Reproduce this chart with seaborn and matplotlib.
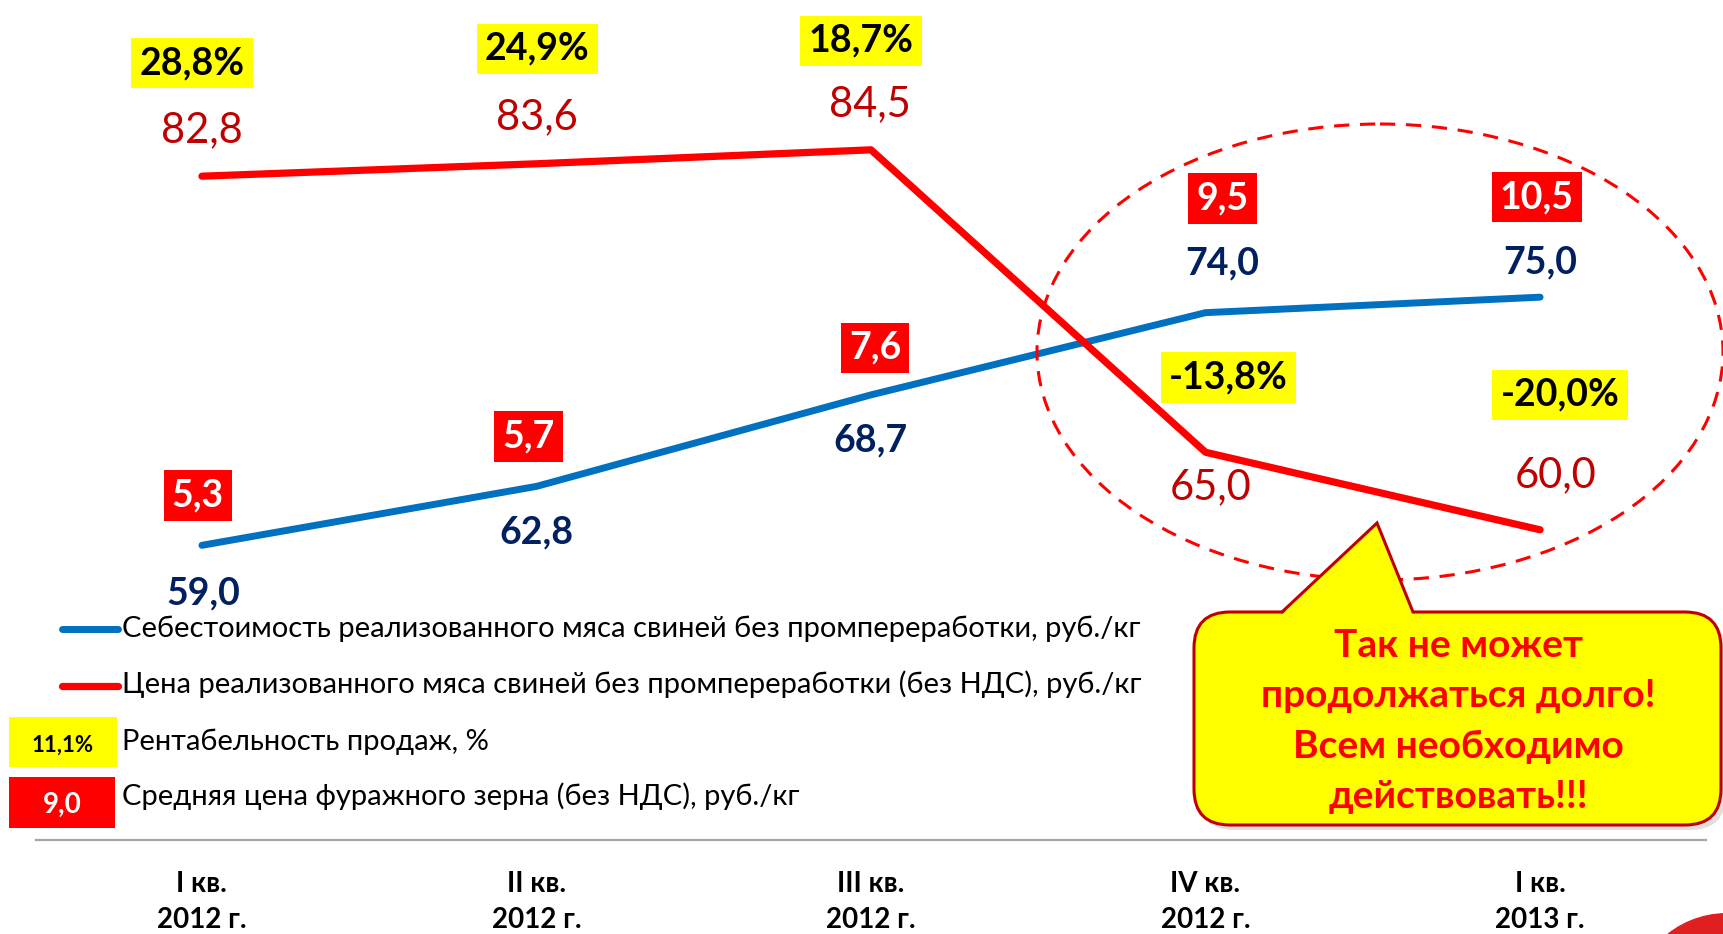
import numpy as np
import pandas as pd
import matplotlib
matplotlib.use("Agg")
import matplotlib.pyplot as plt
import seaborn as sns
from matplotlib import font_manager as fm
from matplotlib.ft2font import FT2Font
from matplotlib.patches import Ellipse, FancyBboxPatch, Rectangle, Polygon, Circle

# ---------------- data ----------------
quarters = ["I кв.\n2012 г.", "II кв.\n2012 г.", "III кв.\n2012 г.", "IV кв.\n2012 г.", "I кв.\n2013 г."]
cost = [59.0, 62.8, 68.7, 74.0, 75.0]          # себестоимость, руб./кг
price = [82.8, 83.6, 84.5, 65.0, 60.0]         # цена, руб./кг
margin = ["28,8%", "24,9%", "18,7%", "-13,8%", "-20,0%"]   # рентабельность продаж
grain = [5.3, 5.7, 7.6, 9.5, 10.5]             # цена фуражного зерна, руб./кг

legend_labels = [
    "Себестоимость реализованного мяса свиней без промпереработки, руб./кг",
    "Цена реализованного мяса свиней без промпереработки (без НДС), руб./кг",
    "Рентабельность продаж, %",
    "Средняя цена фуражного зерна (без НДС), руб./кг",
]
legend_samples = ["11,1%", "9,0"]
callout_lines = ["Так не может", "продолжаться долго!", "Всем необходимо", "действовать!!!"]

def fmt(v):
    return f"{v:.1f}".replace(".", ",")

# ---------------- fonts ----------------
def has_cyr(name):
    try:
        path = fm.findfont(fm.FontProperties(family=name), fallback_to_default=False)
        return FT2Font(path).get_char_index(ord("Б")) != 0
    except Exception:
        return False

FONT = next((n for n in ["Lato", "Open Sans", "Noto Sans"] if has_cyr(n)), "DejaVu Sans")

sns.set_theme(style="white")
plt.rcParams["font.family"] = [FONT, "DejaVu Sans"]

BLUE = "#0070C0"
RED = "#FF0000"
DARKRED = "#C00000"
NAVY = "#002060"
YELLOW = "#FFFF00"

W, H = 1723, 934
fig = plt.figure(figsize=(W / 100, H / 100), dpi=100)
fig.patch.set_facecolor("white")
ax = fig.add_axes([36 / W, (H - 840) / H, 1670 / W, 840 / H])
ax.set_facecolor("white")

df = pd.DataFrame({"x": np.arange(len(quarters)), "cost": cost, "price": price})
sns.lineplot(data=df, x="x", y="cost", ax=ax, color=BLUE, linewidth=5,
             solid_capstyle="round", solid_joinstyle="round")
sns.lineplot(data=df, x="x", y="price", ax=ax, color=RED, linewidth=5.2,
             solid_capstyle="round", solid_joinstyle="round")

ax.set_xlim(-0.496, 4.496)
ax.set_ylim(40, 94.16)
ax.set_xlabel("")
ax.set_ylabel("")
ax.set_yticks([])
ax.set_xticks(range(len(quarters)))
ax.set_xticklabels(quarters, fontsize=20, fontweight="bold", color="black", linespacing=1.5)
ax.tick_params(axis="x", length=0, pad=22)
for s in ["top", "left", "right"]:
    ax.spines[s].set_visible(False)
ax.spines["bottom"].set_color("#A6A6A6")
ax.spines["bottom"].set_linewidth(1.6)

# label offsets in pixels (dx, dy up)
off_cost = [(1, -48), (0, -46), (-1, -46), (17, 49), (0, 35)]
off_price = [(0, 46), (0, 47), (-1, 46), (5, -35), (16, 55)]
off_margin = [(-10, 113), (1, 115), (-10, 109), (23, 75), (20, 135)]
off_grain = [(-4, 50), (-8, 50), (4, 47), (17, 114), (-3, 100)]

for i in range(len(quarters)):
    ax.annotate(fmt(cost[i]), (i, cost[i]), xytext=off_cost[i], textcoords="offset pixels",
                ha="center", va="center", fontsize=27, fontweight="bold", color=NAVY)
    ax.annotate(fmt(price[i]), (i, price[i]), xytext=off_price[i], textcoords="offset pixels",
                ha="center", va="center", fontsize=30, color=DARKRED)
    ax.annotate(margin[i], (i, price[i]), xytext=off_margin[i], textcoords="offset pixels",
                ha="center", va="center", fontsize=27, fontweight="bold", color="black",
                bbox=dict(boxstyle="square,pad=0.22", fc=YELLOW, ec="none"))
    ax.annotate(fmt(grain[i]), (i, cost[i]), xytext=off_grain[i], textcoords="offset pixels",
                ha="center", va="center", fontsize=27, fontweight="bold", color="white",
                bbox=dict(boxstyle="square,pad=0.22", fc=RED, ec="none"))

# ---------------- overlay in pixel coordinates ----------------
ov = fig.add_axes([0, 0, 1, 1], zorder=5)
ov.set_xlim(0, W)
ov.set_ylim(H, 0)
ov.axis("off")
ov.patch.set_alpha(0)

# dashed ellipse
ov.add_patch(Ellipse((1380, 352), 686, 456, fill=False, ec=RED, lw=2.2,
                     linestyle=(0, (5, 3.5))))

# callout shadow + box
ov.add_patch(FancyBboxPatch((1198, 617), 528, 213, boxstyle="round,pad=0,rounding_size=36",
                            fc="#b0b0b0", ec="none", alpha=0.4))
ov.add_patch(FancyBboxPatch((1194, 612), 527, 213, boxstyle="round,pad=0,rounding_size=36",
                            fc=YELLOW, ec=DARKRED, lw=2.2))
ov.add_patch(Polygon([(1282, 614.5), (1377, 523), (1413, 614.5)], closed=True,
                     fc=YELLOW, ec="none"))
ov.plot([1282, 1377, 1413], [612, 523, 612], color=DARKRED, lw=2.2, solid_joinstyle="miter")
for txt, yb in zip(callout_lines, [657, 707, 758, 808]):
    ov.text(1458, yb, txt, ha="center", va="baseline", fontsize=28, fontweight="bold", color=RED)

# legend
ov.plot([62, 118], [629, 629], color=BLUE, lw=5, solid_capstyle="round")
ov.plot([62, 118], [686, 686], color=RED, lw=5.2, solid_capstyle="round")
ov.add_patch(Rectangle((9, 717), 108, 50, fc=YELLOW, ec="none"))
ov.add_patch(Rectangle((9, 777), 106, 51, fc=RED, ec="none"))
ov.text(63, 752, legend_samples[0], ha="center", va="baseline", fontsize=16,
        fontweight="bold", color="black")
ov.text(62, 813, legend_samples[1], ha="center", va="baseline", fontsize=20,
        fontweight="bold", color="white")
for txt, yb in zip(legend_labels, [637, 693, 750, 805]):
    ov.text(122, yb, txt, ha="left", va="baseline", fontsize=21, color="black")

# corner logo (partial)
ov.add_patch(Circle((1727, 1009), 96, fc="#E02020", ec="none"))
ov.add_patch(Circle((1727, 1009), 72, fc="none", ec="white", lw=1.2))

fig.savefig("out.png", dpi=100, facecolor="white")
